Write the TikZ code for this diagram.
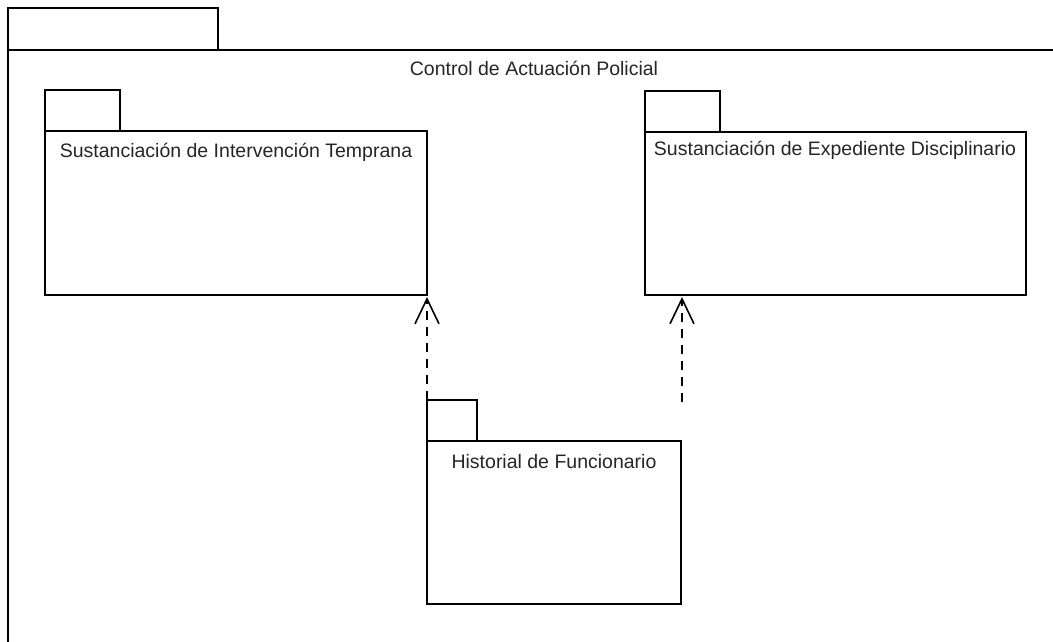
\documentclass[tikz,border=0pt]{standalone}
\usepackage{fontspec}
\setmainfont{Liberation Sans}
\usetikzlibrary{arrows.meta}
\begin{document}
\begin{tikzpicture}[x=1pt,y=-1pt,
  pkg/.style={draw=black, line width=1.8pt, fill=white},
  lbl/.style={font=\fontsize{19.5}{22}\selectfont, text=black!85, inner sep=0pt},
  dep/.style={draw=black, line width=1.5pt, dash pattern=on 9pt off 7pt,
    -{Straight Barb[open, length=25pt, width=24pt, line width=1.6pt]}}]
\useasboundingbox (0,0) rectangle (1053,642);
\fill[white] (0,0) rectangle (1053,642);
% outer package
\draw[pkg] (8,50) rectangle (218,8);
\draw[line width=1.8pt] (8,645) -- (8,50) -- (1060,50);
\node[lbl] (outer) at (534,68) {Control de Actuación Policial};
% left package
\draw[pkg] (45,131) rectangle (120,90);
\draw[pkg] (45,131) rectangle (427,295);
\coordinate (intTop) at (427,297);
\node[lbl] (intLbl) at (236,152) {Sustanciación de Intervención Temprana};
% right package
\draw[pkg] (645,132) rectangle (720,91);
\draw[pkg] (645,132) rectangle (1026,295);
\coordinate (expBot) at (682,297);
\node[lbl] (expLbl) at (835,150) {Sustanciación de Expediente Disciplinario};
% bottom package
\draw[pkg] (427,441) rectangle (477,400);
\draw[pkg] (427,441) rectangle (681,604);
\coordinate (histTab) at (427,400);
\coordinate (free) at (682,402);
\node[lbl] (histLbl) at (554,462) {Historial de Funcionario};
% dependencies
\draw[dep] (histTab) -- (intTop);
\draw[dep] (free) -- (expBot);
\end{tikzpicture}
\end{document}
